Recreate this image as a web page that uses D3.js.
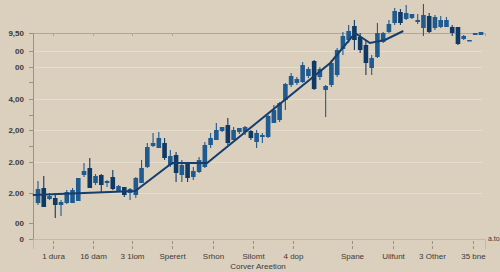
<!DOCTYPE html>
<html>
<head>
<meta charset="utf-8">
<script src="https://cdn.jsdelivr.net/npm/d3@7"></script>
<style>
  body { margin: 0; background: #dbcfbd; }
  svg { display: block; font-family: "Liberation Sans", Arial, sans-serif; }
</style>
</head>
<body>
<svg width="500" height="272"></svg>
<script>
// candle values, one entry per session
var highs  = [2.9,3.15,2.3,2.3,1.95,2.45,2.55,3.05,3.8,4.05,3.25,3.25,2.95,3.45,2.7,2.6,2.55,3.1,3.95,4.8,5.3,5.35,5.05,4.45,4.35,3.95,3.85,3.6,4.1,4.85,5.3,5.8,5.6,6.05,5.6,5.55,5.65,5.45,5.45,5.3,6.2,6.7,6.85,7.8,8.3,8.1,8.85,8.6,8.95,8.6,7.7,8.95,9.55,10.35,10.7,10.95,10.3,9.95,9.2,10.8,10.35,10.95,11.55,11.5,11.7,11.25,11.25,11.75,11.3,11.2,11.15,11.1,10.7,10.6,10.2,9.95,10.3,10.35];
var lows   = [1.7,1.6,1.95,1.05,1.15,1.75,1.8,1.9,3.1,2.55,2.7,2.35,2.6,2.45,2.35,2.1,1.95,2.05,2.8,3.55,4.6,4.55,3.95,3.6,2.85,2.85,2.85,2.95,3.3,3.55,4.55,4.95,5.35,4.7,4.95,5.25,5.2,4.95,4.55,4.8,5.05,5.8,5.85,6.45,7.6,7.7,7.8,8.05,7.45,7.95,6.1,7.6,8.1,9.2,9.8,9.45,9.3,8.2,8.2,9.05,9.8,10.3,10.7,10.7,10.95,11.0,10.75,10.15,10.3,10.45,10.55,10.6,10.15,9.7,9.95,9.9,10.2,10.2];
var opens  = [1.8,2.55,2.0,2.05,1.7,1.8,1.8,1.9,3.2,3.55,2.8,3.2,2.8,3.1,2.4,2.6,2.3,2.2,2.8,3.6,4.65,4.55,4.8,3.7,4.2,3.2,3.8,3.1,3.35,3.6,4.7,4.95,5.4,5.7,4.95,5.35,5.35,5.4,4.85,5.1,5.1,5.8,5.95,6.95,7.7,7.8,7.85,8.15,8.9,8.1,7.45,7.7,8.2,9.5,9.95,10.65,10.1,9.7,8.55,9.1,9.85,10.35,10.8,11.35,11.0,11.05,10.85,10.55,11.15,10.55,10.6,10.6,10.6,10.6,10.0,9.9,10.2,10.2];
var closes = [2.5,1.6,2.15,1.7,1.85,2.35,2.45,3.05,3.4,2.55,3.15,2.7,2.9,2.5,2.65,2.2,2.5,3.05,3.55,4.6,4.8,5.05,4.05,4.15,3.3,3.7,3.05,3.4,3.95,4.7,5.05,5.45,5.6,4.8,5.45,5.55,5.6,5.05,5.3,5.2,6.15,6.45,6.8,7.75,8.15,8.0,8.7,8.5,7.5,8.5,7.65,8.8,9.45,10.15,10.4,9.95,9.45,8.8,9.05,10.3,10.3,10.75,11.4,10.8,11.3,11.25,10.95,11.2,10.35,11.1,10.95,10.95,10.3,9.75,10.15,9.95,10.3,10.35];

// trend line
var trendX = [-0.9,16.9,23.3,29.4,50.8,55.1,57.7,60.3,63.5];
var trendY = [2.2,2.4,3.8,3.8,8.8,10.3,9.8,9.95,10.4];

// axis ticks
var xTicks = [2.61,9.56,16.34,23.29,30.42,37.37,44.32,54.58,61.71,68.48,75.61];
var xLabels = ["1 dura","16 dam","3 1lom","Sperert","Srhon","Silomt","4 dop","Spane","Uilfunt","3 Other","35 bne"];
var yTicks = [10.3,9.4,8.6,7.85,7.0,6.2,5.45,4.65,3.85,2.3,0.8,0];
var yLabels = ["9,50","00","00","","4,00","","2,00","","2.00","2.00","00","0"];
var gridTicks = [9.4,8.6,7.0,5.45,3.85,2.3];

var svg = d3.select("svg");

var x = d3.scaleLinear().domain([-0.87, 77.7]).range([33, 485]),
    y = d3.scaleLinear().domain([0, 10.3]).range([239, 33]);

var candles = highs.map(function(h, i) {
  return {i: i, high: h, low: lows[i], open: opens[i], close: closes[i]};
});

// light grid lines
svg.append("g").selectAll("line")
  .data(gridTicks)
  .enter().append("line")
    .attr("x1", x.range()[0]).attr("x2", 482)
    .attr("y1", function(d) { return y(d) + 0.5; })
    .attr("y2", function(d) { return y(d) + 0.5; })
    .style("stroke", "#e6ddcf")
    .style("stroke-width", 1);

// top border with small ticks
var topAxis = svg.append("g")
    .attr("transform", "translate(0," + y(10.3) + ")")
    .call(d3.axisBottom(x).tickValues(xTicks.slice(0, 4)).tickSize(3).tickFormat(""));
topAxis.select(".domain").style("stroke", "#b3a692");
topAxis.selectAll(".tick line").style("stroke", "#b3a692");

// y axis
var yAxis = svg.append("g")
    .attr("transform", "translate(33,0)")
    .call(d3.axisLeft(y).tickValues(yTicks).tickSize(4).tickPadding(5)
      .tickFormat(function(d, i) { return yLabels[i]; }));
yAxis.select(".domain").style("stroke", "#9d917f");
yAxis.selectAll(".tick line").style("stroke", "#9d917f");
yAxis.selectAll("text")
    .style("font-size", "8px")
    .style("font-weight", "bold")
    .style("fill", "#3d3a36");

// bottom axis
var xAxis = svg.append("g")
    .attr("transform", "translate(0," + y(0) + ")")
    .call(d3.axisBottom(x).tickValues(xTicks).tickSize(10).tickPadding(4)
      .tickFormat(function(d, i) { return xLabels[i]; }));
xAxis.select(".domain").style("stroke", "#c4b8a6");
xAxis.selectAll(".tick line")
    .attr("y1", 2)
    .style("stroke", "#9d917f")
    .style("stroke-dasharray", "3,2");
xAxis.selectAll("text")
    .style("font-size", "8px")
    .style("fill", "#3d3a36");

// axis titles
svg.append("text")
    .attr("x", 258).attr("y", 269)
    .style("text-anchor", "middle")
    .style("font-size", "8px")
    .style("fill", "#3d3a36")
    .text("Corver Areetion");

svg.append("text")
    .attr("x", 488).attr("y", 241)
    .style("font-size", "7px")
    .style("fill", "#3d3a36")
    .text("a.to");

// candles
var up = "#1f5b91", down = "#0f3a66";
var cg = svg.append("g").selectAll("g")
  .data(candles)
  .enter().append("g");

cg.append("line")
    .attr("x1", function(d) { return x(d.i); })
    .attr("x2", function(d) { return x(d.i); })
    .attr("y1", function(d) { return y(d.high); })
    .attr("y2", function(d) { return y(d.low); })
    .style("stroke", function(d) { return d.close < d.open ? down : up; })
    .style("stroke-width", 1.1);

cg.append("rect")
    .attr("x", function(d) { return x(d.i) - 2.3; })
    .attr("width", 4.6)
    .attr("y", function(d) { return y(Math.max(d.open, d.close)); })
    .attr("height", function(d) { return Math.max(1.5, Math.abs(y(d.open) - y(d.close))); })
    .style("fill", function(d) { return d.close < d.open ? down : up; });

// trend line
var line = d3.line()
    .x(function(d, i) { return x(trendX[i]); })
    .y(function(d) { return y(d); });

svg.append("path")
    .datum(trendY)
    .attr("d", line)
    .style("fill", "none")
    .style("stroke", "#143f6c")
    .style("stroke-width", 2);
</script>
</body>
</html>
